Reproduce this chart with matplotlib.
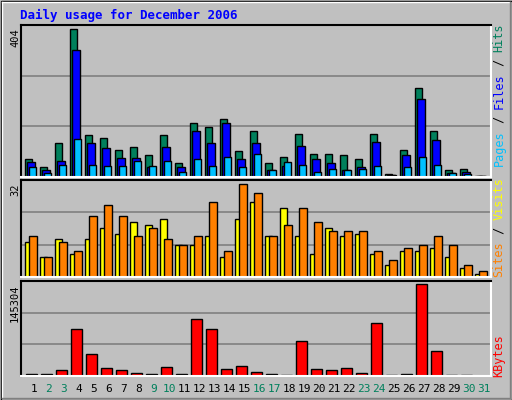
import matplotlib
matplotlib.use("Agg")
import matplotlib.pyplot as plt
from matplotlib.patches import Rectangle

days = list(range(1, 32))
hits = [50,28,92,404,116,108,75,83,61,114,39,149,138,160,72,127,39,54,119,64,64,59,48,119,9,75,243,127,20,23,3]
files = [42,20,45,347,92,78,53,53,28,81,28,127,94,147,48,94,20,29,86,48,39,20,26,97,6,61,214,100,12,15,3]
pages = [26,12,34,105,34,31,31,45,31,45,15,50,31,56,26,64,20,42,34,15,23,20,23,31,5,26,56,34,12,7,3]
sites = [12,7,13,8,13,17,15,19,18,20,11,11,14,7,20,26,14,24,14,8,17,14,15,8,4,9,9,10,7,3,1]
visits = [14,7,12,9,21,25,21,14,17,13,11,14,26,9,32,29,14,18,24,19,16,16,16,9,6,10,11,14,11,4,2]
kbytes = [3700,3700,10000,75000,35400,13200,10000,5300,3700,14800,3700,89300,75000,11600,16400,6900,3700,2100,56000,11600,10000,13200,5300,83000,2100,3700,145304,40200,2100,2100,0]
weekend = [2,3,9,10,16,17,23,24,30,31]
title = "Daily usage for December 2006"

W, H = 512, 400
fig = plt.figure(figsize=(W/100, H/100), dpi=100)
fig.patch.set_facecolor("#C0C0C0")
bg = fig.add_axes([0, 0, 1, 1]); bg.set_xlim(0, W); bg.set_ylim(H, 0); bg.axis("off")
bg.add_patch(Rectangle((0.5, 0.5), W-1, H-1, fill=False, ec="black", lw=1))
bg.plot([2, W-2], [2, 2], color="white", lw=1); bg.plot([2, 2], [2, H-2], color="white", lw=1)
bg.plot([2, W-2], [H-2, H-2], color="#808080", lw=1); bg.plot([W-2, W-2], [2, H-2], color="#808080", lw=1)

fig.text(20/W, 1-15/H, title, color="#0000FF", fontsize=9, fontweight="bold",
         family="DejaVu Sans Mono", va="center", ha="left")

x0, x1 = 21, 491
xmin = 1 - 11/15
xmax = xmin + (x1 - x0)/15

def mkax(top, bot, ymax):
    ax = fig.add_axes([x0/W, 1-bot/H, (x1-x0)/W, (bot-top)/H])
    ax.set_facecolor("#C0C0C0")
    ax.set_xlim(xmin, xmax); ax.set_ylim(0, ymax)
    for y in (ymax/3, 2*ymax/3):
        ax.axhline(y, color="#808080", lw=1.2, zorder=0)
    ax.set_xticks([]); ax.set_yticks([])
    for s in ("top", "left"):
        ax.spines[s].set_color("black"); ax.spines[s].set_linewidth(1.5)
    for s in ("bottom", "right"):
        ax.spines[s].set_color("white"); ax.spines[s].set_linewidth(1.5)
    return ax

kw = dict(align="edge", edgecolor="black", linewidth=1)
ax1 = mkax(25, 177, 404*455/442)
left = [d - 7/15 for d in days]
ax1.bar(left, hits, width=7.3/15, color="#00805C", **kw)
ax1.bar([l + 2.3/15 for l in left], files, width=7.7/15, color="#0000FF", **kw)
ax1.bar([l + 4/15 for l in left], pages, width=7.3/15, color="#00C0FF", **kw)

ax2 = mkax(180, 277, 32*289/276)
ax2.bar(left, sites, width=7.3/15, color="#FFFF00", **kw)
ax2.bar([l + 4/15 for l in left], visits, width=7.7/15, color="#FF8000", **kw)

ax3 = mkax(281, 376, 145304*284/275)
ax3.bar([l + 1/15 for l in left], kbytes, width=10.7/15, color="#FF0000", **kw)

mono = "DejaVu Sans Mono"
for ytop, txt in ((25, "404"), (180, "32"), (281, "145304")):
    fig.text(15/W, 1-(ytop+3)/H, txt, rotation=90, fontsize=7.5, family=mono,
             ha="center", va="top", color="black")

fig.canvas.draw()
renderer = fig.canvas.get_renderer()

def rlabel(ybot, parts):
    y = ybot
    for t, c in parts:
        tx = fig.text(499/W, 1-y/H, t, rotation=90, fontsize=8.5, family=mono,
                      color=c, ha="center", va="bottom")
        ext = tx.get_window_extent(renderer)
        y -= ext.height

rlabel(166, [("Pages", "#00C0FF"), (" / ", "black"), ("Files", "#0000FF"), (" / ", "black"), ("Hits", "#00805C")])
rlabel(277, [("Sites", "#FF8000"), (" / ", "black"), ("Visits", "#FFFF00")])
rlabel(377, [("KBytes", "#FF0000")])

for d in days:
    px = 32 + (d - 1)*15 + 2
    fig.text(px/W, 1-389/H, str(d), fontsize=8, family=mono, ha="center", va="center",
             color="#00805C" if d in weekend else "black")

fig.savefig("out.png", dpi=100, facecolor=fig.get_facecolor())
